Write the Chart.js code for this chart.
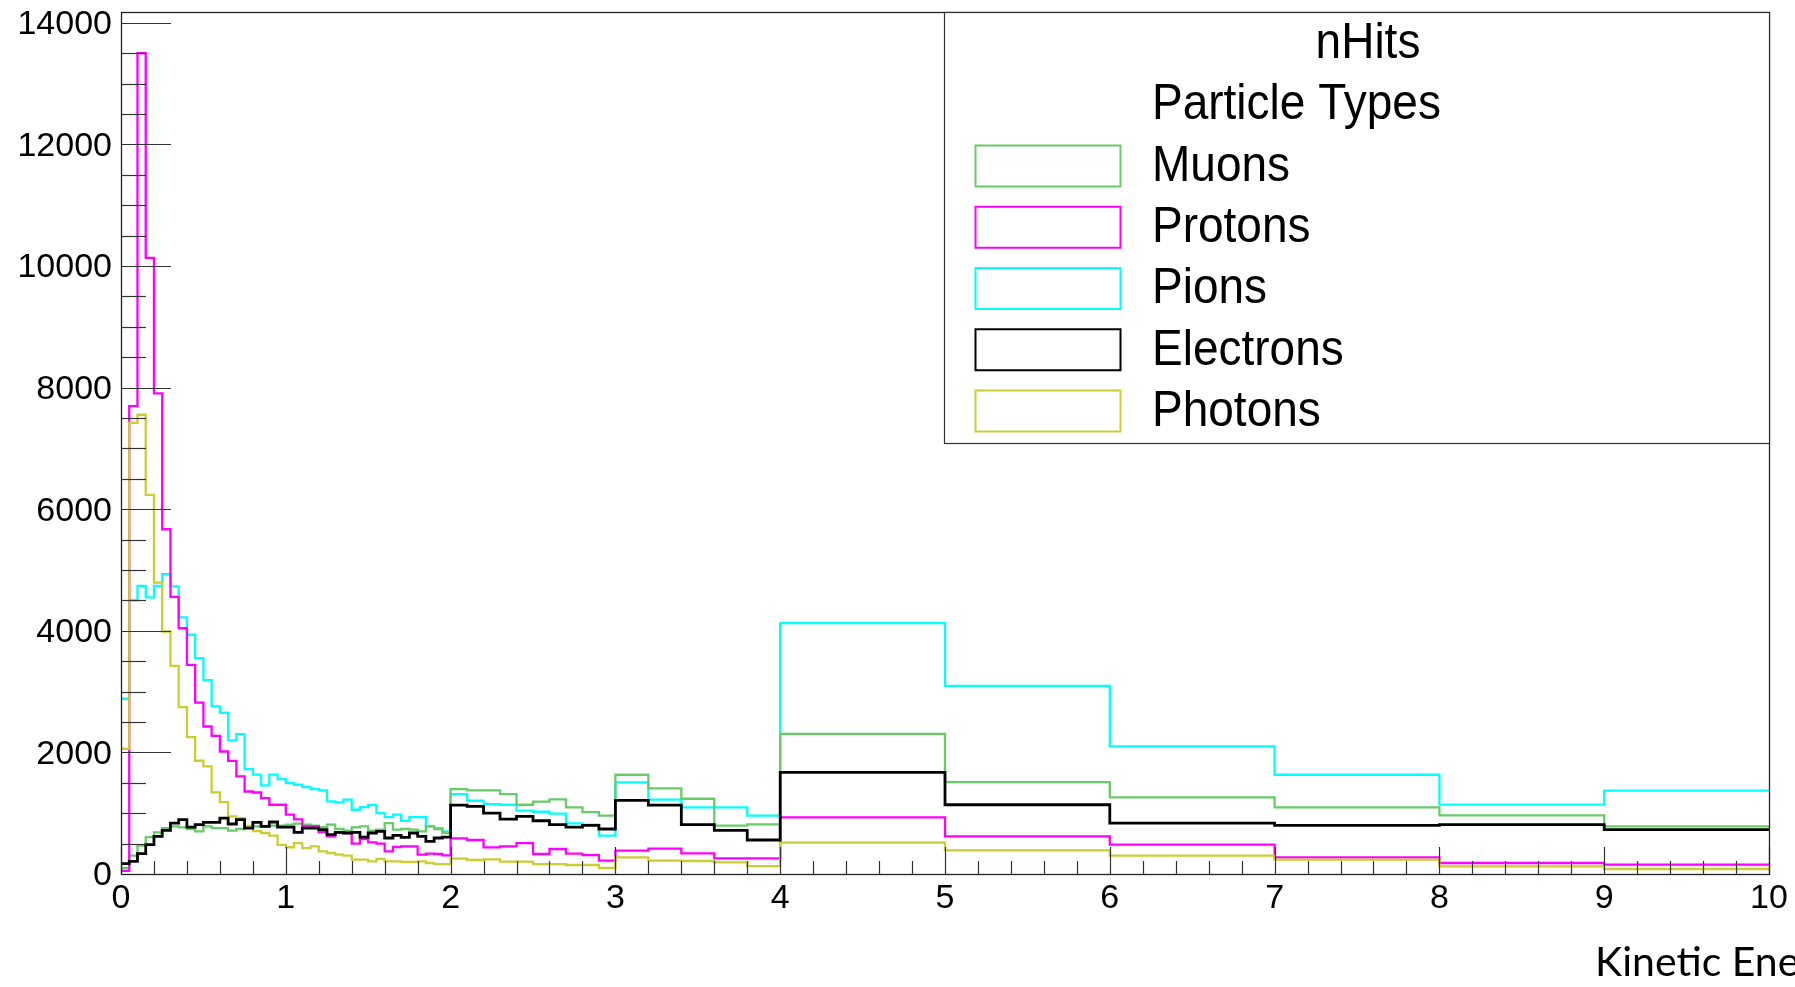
<!DOCTYPE html>
<html>
<head>
<meta charset="utf-8">
<script src="https://cdn.jsdelivr.net/npm/chart.js@4.4.1/dist/chart.umd.min.js"></script>
<style>
html,body{margin:0;padding:0;background:#fff;overflow:hidden;}
canvas{display:block;}
</style>
</head>
<body>
<canvas id="c" width="1795" height="987"></canvas>
<script>
// ---- data ----
const binEdges = [0,0.05,0.1,0.15,0.2,0.25,0.3,0.35,0.4,0.45,0.5,0.55,0.6,0.65,0.7,0.75,0.8,0.85,0.9,0.95,
  1.0,1.05,1.1,1.15,1.2,1.25,1.3,1.35,1.4,1.45,1.5,1.55,1.6,1.65,1.7,1.75,1.8,1.85,1.9,1.95,
  2.0,2.1,2.2,2.3,2.4,2.5,2.6,2.7,2.8,2.9,3.0,3.2,3.4,3.6,3.8,4,5,6,7,8,9,10];

const muons = [99,301,466,608,685,756,783,767,740,701,783,756,756,712,740,767,783,783,794,794,
  811,827,811,794,772,811,740,712,767,783,712,729,838,729,740,729,701,783,740,674,
  1397,1375,1375,1315,1139,1189,1227,1096,1019,959,
  1632,1408,1238,794,816,
  2306,1512,1260,1096,964,783];

const protons = [50,7696,13502,10133,7904,5670,4557,4042,3440,2820,2426,2273,2015,1862,1604,1357,1340,1249,1139,1139,
  975,900,783,783,690,619,685,674,498,575,520,498,372,444,455,455,318,334,329,307,
  586,559,438,455,509,329,411,334,312,219,
  383,416,340,257,257,
  931,619,482,274,181,153];

const pions = [2882,4499,4740,4548,4740,4932,4729,4220,3935,3551,3189,2756,2652,2197,2302,1726,1633,1458,1633,1562,
  1496,1468,1430,1397,1375,1194,1178,1222,1057,1101,1134,1002,937,975,876,937,937,784,756,701,
  1315,1205,1150,1139,1041,1024,992,833,811,630,
  1506,1222,1096,1096,959,
  4125,3095,2098,1632,1140,1370];

const electrons = [170,208,334,482,619,718,838,893,772,811,849,849,920,822,893,756,849,783,855,772,
  772,685,756,756,729,646,685,674,685,608,674,701,592,635,603,674,619,537,592,608,
  1134,1112,1002,904,948,876,811,772,800,740,
  1211,1134,811,718,559,
  1671,1139,838,800,811,729];

const photons = [2060,7421,7553,6234,4793,3988,3424,2744,2251,1863,1769,1342,1183,948,920,790,705,674,630,480,
  440,509,427,455,372,345,318,301,236,236,208,247,208,208,197,197,208,181,164,164,
  252,230,241,203,203,164,164,148,148,99,
  274,219,214,192,131,
  515,389,301,236,126,82];

const seriesNames = ['Muons','Protons','Pions','Electrons','Photons'];
const seriesValues = [muons, protons, pions, electrons, photons];
const seriesColors = ['#66cc66','#ff00ff','#00ffff','#000000','#cccc33'];
const seriesOrder = [3,2,4,0,1];

const xMajorTicks = [0,1,2,3,4,5,6,7,8,9,10];
const yMajorTicks = [0,2000,4000,6000,8000,10000,12000,14000];
const xMinorStep = 0.2;
const yMinorStep = 500;

const legendHeader = 'nHits';
const legendTitle = 'Particle Types';
const xAxisTitle = 'Kinetic Energy [GeV]';

// ---- build datasets ----
function histPoints(vals){
  const pts = vals.map((v,i)=>({x:binEdges[i], y:v}));
  pts.push({x:binEdges[vals.length], y:vals[vals.length-1]});
  return pts;
}
const datasets = seriesNames.map((n,i)=>({
  label:n,
  data:histPoints(seriesValues[i]),
  borderColor:seriesColors[i],
  borderWidth: i===3 ? 2.8 : 2.3,
  stepped:true,
  pointRadius:0,
  fill:false,
  order:seriesOrder[i]
}));
const yMax = 1.05*Math.max(...seriesValues.flat());

// ---- plugins ----
const rootFrame = {
  id:'rootFrame',
  afterDatasetsDraw(chart){
    const ctx = chart.ctx, a = chart.chartArea;
    const xs = chart.scales.x, ys = chart.scales.y;
    ctx.save();
    ctx.strokeStyle = '#333';
    ctx.lineWidth = 1.2;
    for(let v=0; v<=ys.max+1e-6; v+=yMinorStep){
      const y = Math.round(ys.getPixelForValue(v))+0.5;
      const major = yMajorTicks.includes(v);
      ctx.beginPath();
      ctx.moveTo(a.left, y);
      ctx.lineTo(a.left + (major?50:25), y);
      ctx.stroke();
    }
    for(let k=0; k<=Math.round((xs.max-xs.min)/xMinorStep); k++){
      const v = xs.min + k*xMinorStep;
      const x = Math.round(xs.getPixelForValue(v))+0.5;
      const major = xMajorTicks.some(t=>Math.abs(t-v)<1e-6);
      ctx.beginPath();
      ctx.moveTo(x, a.bottom);
      ctx.lineTo(x, a.bottom - (major?27:13));
      ctx.stroke();
    }
    ctx.lineWidth = 1.3;
    ctx.strokeStyle = '#222';
    ctx.strokeRect(a.left+0.5, a.top+0.5, a.right-a.left, a.bottom-a.top);
    ctx.restore();
  },
  afterDraw(chart){
    const ctx = chart.ctx;
    ctx.save();
    const L = 944.5, T = chart.chartArea.top+0.5, R = chart.chartArea.right+0.5, B = 443.5;
    ctx.fillStyle = '#fff';
    ctx.fillRect(L, T, R-L, B-T);
    ctx.strokeStyle = '#333';
    ctx.lineWidth = 1.2;
    ctx.strokeRect(L, T, R-L, B-T);
    const sx = 0.92;
    const font = '50px "Liberation Sans", Arial, sans-serif';
    ctx.fillStyle = '#000';
    ctx.textBaseline = 'middle';
    function txt(s, x, y, align){
      ctx.save();
      ctx.font = font;
      ctx.textAlign = align;
      ctx.translate(x, y);
      ctx.scale(sx, 1);
      ctx.fillText(s, 0, 0);
      ctx.restore();
    }
    txt(legendHeader, 1368, 44, 'center');
    txt(legendTitle, 1152, 105, 'left');
    const rowY0 = 166, rowDy = 61.25;
    seriesNames.forEach((n,i)=>{
      const cy = rowY0 + i*rowDy;
      ctx.strokeStyle = seriesColors[i];
      ctx.lineWidth = 2;
      ctx.strokeRect(975.5, cy-20.5, 145, 41);
      ctx.fillStyle = '#000';
      txt(n, 1152, cy+1, 'left');
    });
    ctx.font = '41px Lato, "Open Sans", sans-serif';
    ctx.textAlign = 'left';
    ctx.textBaseline = 'middle';
    ctx.fillStyle = '#000';
    ctx.fillText(xAxisTitle, 1595, 963);
    ctx.restore();
  }
};

new Chart(document.getElementById('c'), {
  type:'line',
  data:{datasets},
  options:{
    responsive:false,
    animation:false,
    events:[],
    layout:{padding:{left:0,right:26,top:12,bottom:0}},
    plugins:{legend:{display:false}, tooltip:{enabled:false}},
    scales:{
      x:{
        type:'linear', min:0, max:10,
        grid:{display:false, drawTicks:false},
        border:{display:false},
        afterBuildTicks:(s)=>{ s.ticks = xMajorTicks.map(v=>({value:v})); },
        afterFit:(s)=>{ s.height = 113; s.paddingLeft = 0; s.paddingRight = 0; },
        ticks:{
          font:{family:'"Liberation Sans", Arial, sans-serif', size:34},
          color:'#000', padding:4, maxRotation:0, autoSkip:false,
          callback:(v)=>String(v)
        }
      },
      y:{
        type:'linear', min:0, max:yMax,
        grid:{display:false, drawTicks:false},
        border:{display:false},
        afterBuildTicks:(s)=>{ s.ticks = yMajorTicks.map(v=>({value:v})); },
        afterFit:(s)=>{ s.width = 121; s.paddingTop = 0; s.paddingBottom = 0; },
        ticks:{
          font:{family:'"Liberation Sans", Arial, sans-serif', size:34},
          color:'#000', padding:9, autoSkip:false, labelOffset:2,
          callback:(v)=>String(v)
        }
      }
    }
  },
  plugins:[rootFrame]
});
</script>
</body>
</html>
